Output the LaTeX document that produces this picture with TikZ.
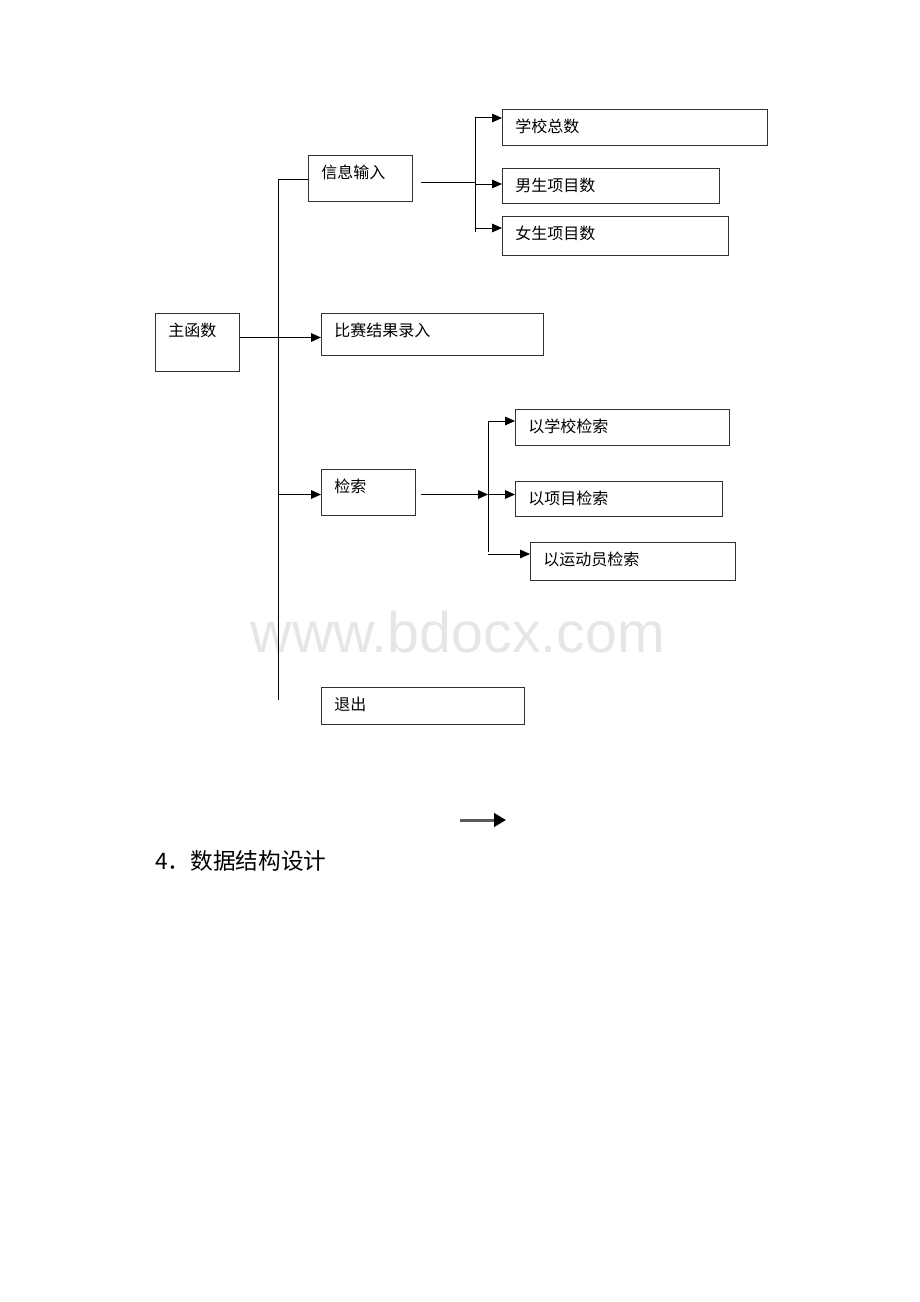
\documentclass[tikz,border=0pt]{standalone}
\usepackage{fontspec}
\newfontfamily\cjk{Noto Sans CJK SC}
\newfontfamily\wmfont{Liberation Sans}
\usetikzlibrary{arrows.meta}

\definecolor{boxline}{HTML}{333333}
\definecolor{wmgray}{HTML}{E6E6E6}
\definecolor{shaftgray}{HTML}{5A5A5A}

\tikzset{
  box/.style 2 args={draw=boxline, line width=0.75pt, anchor=north west, inner sep=0pt,
    minimum width=#1*0.75pt, minimum height=#2*0.75pt},
  txt/.style={anchor=west, inner sep=0pt, xshift=9.75pt, yshift=-12.75pt,
    font=\cjk\fontsize{12}{14}\selectfont},
  link/.style={line width=0.75pt},
  arr/.style={line width=0.75pt, -{Triangle[length=7.5pt,width=6.5pt]}}
}

\begin{document}
\begin{tikzpicture}[x=0.75pt, y=-0.75pt]
  \useasboundingbox (0,0) rectangle (920,1302);

  % watermark
  \node[font=\wmfont\fontsize{43}{50}\selectfont, text=wmgray, anchor=base, inner sep=0pt]
    (watermark) at (458,652) {www.bdocx.com};

  % first level
  \node[box={84}{58}, label={[txt]north west:主函数}] (main) at (155,313) {};
  \node[box={104}{46}, label={[txt]north west:信息输入}] (input) at (308,155) {};
  \node[box={222}{42}, label={[txt]north west:比赛结果录入}] (result) at (321,313) {};
  \node[box={94}{46}, label={[txt]north west:检索}] (search) at (321,469) {};
  \node[box={203}{37}, label={[txt]north west:退出}] (quit) at (321,687) {};

  % second level
  \node[box={265}{36}, label={[txt]north west:学校总数}] (schoolnum) at (502,109) {};
  \node[box={217}{35}, label={[txt]north west:男生项目数}] (boynum) at (502,168) {};
  \node[box={226}{39}, label={[txt]north west:女生项目数}] (girlnum) at (502,216) {};
  \node[box={214}{36}, label={[txt]north west:以学校检索}] (byschool) at (515,409) {};
  \node[box={207}{35}, label={[txt]north west:以项目检索}] (byitem) at (515,481) {};
  \node[box={205}{38}, label={[txt]north west:以运动员检索}] (byathlete) at (530,542) {};

  % main bus
  \coordinate (bustop) at (278,180);
  \coordinate (busbot) at (278,700);
  \draw[link] (bustop) -- (busbot);
  \draw[link] (bustop) -- (bustop -| input.west);
  \draw[link] ([yshift=3.75pt]main.east) -- ([yshift=3.75pt]main.east -| bustop);
  \draw[arr] ([yshift=-2.25pt]result.west -| bustop) -- ([yshift=-2.25pt]result.west);
  \draw[arr] ([yshift=-1.5pt]search.west -| bustop) -- ([yshift=-1.5pt]search.west);

  % input bus
  \coordinate (bus2top) at (475,118);
  \coordinate (bus2bot) at (475,232);
  \draw[link] (bus2top) -- (bus2bot);
  \draw[link] ([xshift=6pt,yshift=-3pt]input.east) -- ([yshift=-3pt]input.east -| bus2top);
  \draw[arr] (bus2top) -- (bus2top -| schoolnum.west);
  \draw[arr] ([yshift=1.5pt]boynum.west -| bus2top) -- ([yshift=1.5pt]boynum.west);
  \draw[arr] ([yshift=3pt]bus2bot) -- ([yshift=3pt]bus2bot -| girlnum.west);

  % search bus
  \coordinate (bus3top) at (488,421);
  \coordinate (bus3bot) at (488,552);
  \draw[link] (bus3top) -- (bus3bot);
  \draw[arr] ([xshift=3.75pt,yshift=-1.5pt]search.east) -- ([yshift=-1.5pt]search.east -| bus3top);
  \draw[arr] (bus3top) -- (bus3top -| byschool.west);
  \draw[arr] ([yshift=-1.5pt]search.east -| bus3top) -- ([yshift=-1.5pt]search.east -| byitem.west);
  \draw[arr] ([yshift=-1.5pt]bus3bot) -- ([yshift=-1.5pt]bus3bot -| byathlete.west);

  % loose arrow
  \coordinate (arrstart) at (460,820);
  \coordinate (arrend) at (506,820);
  \draw[line width=2.25pt, shaftgray, -{Triangle[length=9pt,width=10pt,black]}] (arrstart) -- (arrend);

  % heading
  \node[anchor=west, inner sep=0pt, font=\cjk\fontsize{17}{20}\selectfont] (heading) at (155,861) {4．数据结构设计};
\end{tikzpicture}
\end{document}
